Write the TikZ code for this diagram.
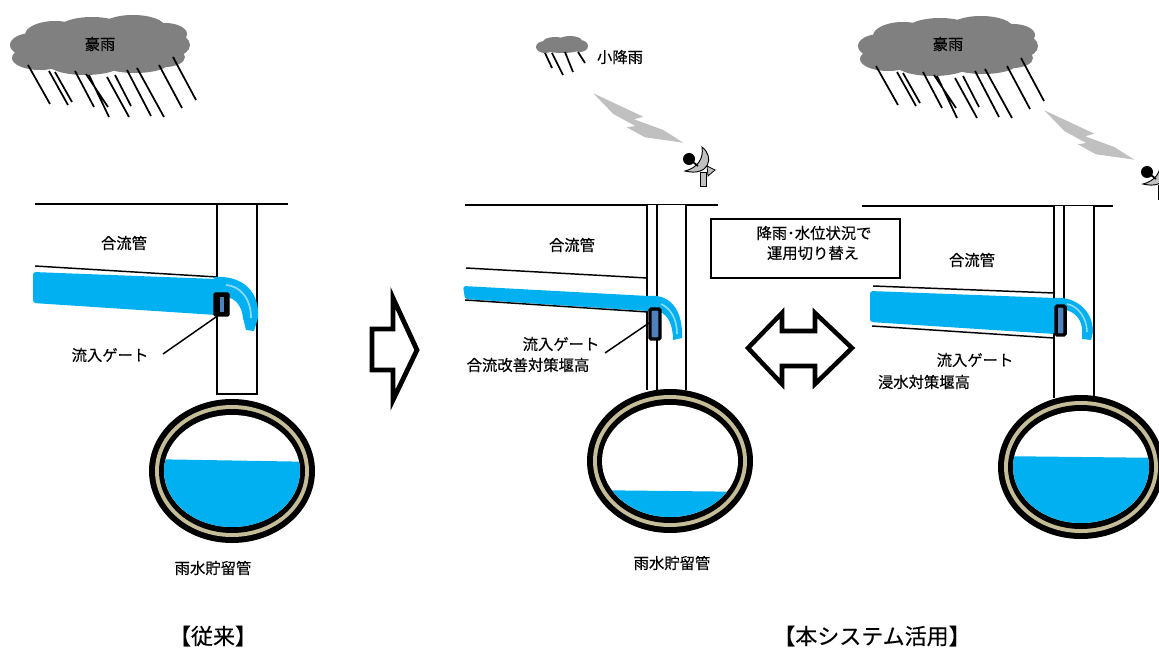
\documentclass[tikz,border=0pt]{standalone}
\usepackage{fontspec}
\setmainfont{Noto Sans CJK JP}[FakeBold=0.4]
\definecolor{water}{HTML}{00B0F0}
\definecolor{gateblue}{HTML}{4F81BD}
\definecolor{ringtan}{HTML}{C4BD97}
\definecolor{cloudgray}{HTML}{808080}
\definecolor{boltgray}{HTML}{C0C0C0}
\definecolor{hilite}{HTML}{8FDBF7}

% heavy rain cloud with its rain streaks
\newcommand{\stormcloud}{%
  \fill[cloudgray]
    (32,45) ellipse [x radius=22,y radius=12]
    (55,35) ellipse [x radius=30,y radius=14]
    (92,30) ellipse [x radius=35,y radius=13]
    (133,27) ellipse [x radius=32,y radius=12]
    (165,34) ellipse [x radius=22,y radius=11]
    (175,45) ellipse [x radius=15,y radius=11]
    (40,58) ellipse [x radius=28,y radius=12]
    (85,63) ellipse [x radius=38,y radius=12]
    (135,62) ellipse [x radius=35,y radius=11]
    (165,57) ellipse [x radius=20,y radius=10]
    (100,45) ellipse [x radius=75,y radius=20];
  \draw[rain] (28,65)--(50,104) (49,71)--(68,105) (55,72)--(72,102)
    (75,71)--(94,107) (86,74)--(108,107) (89,75)--(109,117)
    (107,77)--(129,117) (115,75)--(131,106) (127,70)--(151,116)
    (137,68)--(164,117) (159,65)--(182,108) (173,57)--(196,100);
}
% radio link bolt (tip at the lower right)
\newcommand{\radiobolt}{%
  \fill[boltgray] (593.3,93.3) -- (643.3,116.7) -- (634,119.3) -- (663.3,130)
    -- (683.3,142.7) -- (645,137.3) -- (626.7,127.3) -- (635.3,126)
    -- (613.3,114) -- cycle;
}
% receiving antenna, ball at the origin
\newcommand{\antenna}{%
  \draw[line width=0.6pt,fill=boltgray] (11,13) rectangle (17,27);
  \draw[line width=0.6pt,fill=boltgray] (18,7) -- (26,11) -- (19,17) -- cycle;
  \draw[line width=0.7pt,fill=boltgray] (13,-12) .. controls (26,-2) and (20,18) .. (-4,12)
    .. controls (8,9) and (15,0) .. (13,-12) -- cycle;
  \draw[line width=1.3pt] (0,0) -- (9,7);
  \fill (0,0) circle [radius=6];
}
% storage pipe section: centre, water level left / right
\newcommand{\storagepipe}[4]{%
  \fill[black] (#1,#2) ellipse [x radius=83,y radius=72];
  \fill[ringtan] (#1,#2) ellipse [x radius=77,y radius=66];
  \fill[black] (#1,#2) ellipse [x radius=73,y radius=62];
  \fill[white] (#1,#2) ellipse [x radius=68,y radius=56];
  \begin{scope}
    \clip (#1,#2) ellipse [x radius=68,y radius=56];
    \fill[water] (#1-90,#3) -- (#1+90,#4) -- (#1+90,#2+80) -- (#1-90,#2+80) -- cycle;
  \end{scope}
}

\begin{document}
\begin{tikzpicture}[x=0.75pt,y=-0.75pt,
  lbl/.style={font=\fontsize{11.5}{13}\selectfont, inner sep=0pt},
  ttl/.style={font=\fontsize{16.5}{18}\selectfont, inner sep=0pt},
  wall/.style={line width=1.1pt},
  rain/.style={line width=1.3pt},
  leader/.style={line width=1.1pt},
  hollowarrow/.style={line width=3.6pt, fill=white, line join=miter},
  gatebox/.style={fill=gateblue, draw=black, line width=2.6pt, rounded corners=1pt}]
\useasboundingbox (0,0) rectangle (1159,648);
\clip (0,0) rectangle (1159,648);

% ================= left panel: conventional =================
\stormcloud
\node[lbl] (rainA) at (100,44) {豪雨};

\draw[wall] (35,204) -- (288,204);
\draw[wall,fill=white] (217,204) rectangle (257,394);
\draw[wall] (35,266) -- (217,277);
\fill[water,rounded corners=2pt] (33,272) -- (216,279) -- (216,315) -- (33,303) -- cycle;
\fill[water] (214,277) .. controls (243,275) and (260,292) .. (258,318) -- (254,331)
  -- (246,330) -- (243,318) .. controls (242,307) and (236,298) .. (226,297) -- (214,297) -- cycle;
\draw[hilite,line width=1.3pt] (226,285) .. controls (240,286) and (251,298) .. (251,318);
\draw[fill=black,line width=1pt,rounded corners=1pt] (214,293) rectangle (229,316);
\fill[gateblue] (220,297) rectangle (224,312);
\coordinate (gateA) at (216,317);
\coordinate (leadA) at (163,354);
\node[lbl] (pipeA) at (124,243) {合流管};
\node[lbl] (gatelblA) at (110,355) {流入ゲート};
\draw[leader] (gateA) -- (leadA);
\storagepipe{232}{471}{459}{462}
\node[lbl] (tankA) at (213,568) {雨水貯留管};
\node[ttl] (titleA) at (213,636) {【従来】};

% transition arrow
\draw[hollowarrow] (372,329) -- (393,329) -- (393,298) -- (417,350) -- (393,400)
  -- (393,370) -- (372,370) -- cycle;

% ================= middle panel: light rain =================
\fill[cloudgray]
  (545,47) ellipse [x radius=9,y radius=6]
  (555,42) ellipse [x radius=12,y radius=5]
  (570,41) ellipse [x radius=12,y radius=5]
  (580,46) ellipse [x radius=8,y radius=6]
  (562,48) ellipse [x radius=20,y radius=5];
\draw[rain] (545,53)--(552,68) (552,53)--(563,75) (565,52)--(573,72) (578,52)--(585,63);
\node[lbl] (rainB) at (620,57) {小降雨};
\radiobolt
\begin{scope}[shift={(689,159)}]
  \antenna
\end{scope}

\draw[wall] (465,205) -- (718,205);
\fill[white] (647,205) rectangle (686,388);
\draw[wall] (647,205) -- (647,390) (657,205) -- (657,390) (686,205) -- (686,390);
\draw[wall] (466,268) -- (647,278);
\fill[water,rounded corners=2pt] (463,286) -- (648,296) -- (648,311) -- (465,299) -- cycle;
\draw[wall] (465,300) -- (648,312);
\fill[water] (646,296) -- (657,296) .. controls (672,298) and (683,312) .. (682,338)
  -- (673,340) .. controls (673,325) and (668,315) .. (660,312) -- (646,311) -- cycle;
\draw[hilite,line width=1.2pt] (661,304) .. controls (670,308) and (677,318) .. (677,334);
\draw[gatebox] (650,309) rectangle (660,339);
\coordinate (gateB) at (649,323);
\coordinate (leadB) at (605,353);
\node[lbl] (pipeB) at (572,245) {合流管};
\node[lbl] (gatelblB) at (561,344) {流入ゲート};
\node[lbl] (weirB) at (528,365) {合流改善対策堰高};
\draw[leader] (gateB) -- (leadB);
\storagepipe{670}{461}{490}{492}
\node[lbl] (tankB) at (672,563) {雨水貯留管};

% switching note
\node[draw,wall,fill=white,minimum width=189*0.75pt,minimum height=59*0.75pt,inner sep=0pt]
  (switchbox) at (805.5,248.5) {};
\node[lbl] (switch1) at (814,233) {降雨･水位状況で};
\node[lbl] (switch2) at (813,253) {運用切り替え};

% two-way arrow
\draw[line width=3.4pt, fill=white, line join=miter] (748,348) -- (782,313) -- (782,331)
  -- (815,331) -- (815,313) -- (852,348) -- (815,384) -- (815,366) -- (782,366)
  -- (782,384) -- cycle;

% ================= right panel: heavy rain =================
\begin{scope}[shift={(848,1)}]
  \stormcloud
\end{scope}
\node[lbl] (rainC) at (948,44) {豪雨};
\begin{scope}[shift={(451,17)}]
  \radiobolt
\end{scope}
\begin{scope}[shift={(1147,172)}]
  \antenna
\end{scope}

\draw[wall] (862,206) -- (1113,206);
\fill[white] (1054,206) rectangle (1094,396);
\draw[wall] (1054,206) -- (1054,398) (1064,206) -- (1064,300) (1094,206) -- (1094,398);
\draw[wall] (873,286) -- (1054,293);
\fill[water,rounded corners=2pt] (870,291) -- (1055,298) -- (1055,334) -- (870,322) -- cycle;
\draw[wall] (872,326) -- (1054,338);
\fill[water] (1054,298) .. controls (1075,296) and (1093,310) .. (1093,332) -- (1091,340)
  -- (1082,339) -- (1082,330) .. controls (1082,320) and (1075,312) .. (1066,310) -- (1054,310) -- cycle;
\draw[hilite,line width=1.2pt] (1067,304) .. controls (1078,306) and (1087,318) .. (1087,332);
\draw[gatebox] (1056,306) rectangle (1065,335);
\node[lbl] (pipeC) at (972,260) {合流管};
\node[lbl] (gatelblC) at (975,360) {流入ゲート};
\node[lbl] (weirC) at (924,382) {浸水対策堰高};
\storagepipe{1081}{467}{456}{458}

\node[ttl] (titleB) at (872,636) {【本システム活用】};
\end{tikzpicture}
\end{document}
